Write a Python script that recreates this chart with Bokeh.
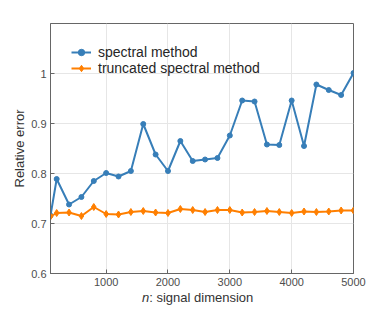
from bokeh.plotting import figure
from bokeh.models import FixedTicker, Range1d, Legend, LegendItem, Div
from bokeh.layouts import column
from bokeh.embed import file_html
from bokeh.resources import INLINE

n_values = [100, 200, 400, 600, 800, 1000, 1200, 1400, 1600, 1800, 2000, 2200, 2400,
            2600, 2800, 3000, 3200, 3400, 3600, 3800, 4000, 4200, 4400, 4600, 4800, 5000]
spectral = [0.716, 0.789, 0.738, 0.753, 0.785, 0.801, 0.794, 0.805, 0.899, 0.838, 0.805,
            0.865, 0.825, 0.828, 0.831, 0.876, 0.946, 0.944, 0.858, 0.857, 0.946, 0.855,
            0.978, 0.967, 0.957, 1.001]
truncated = [0.714, 0.721, 0.722, 0.715, 0.733, 0.719, 0.718, 0.723, 0.725, 0.722, 0.721,
             0.729, 0.727, 0.723, 0.727, 0.727, 0.722, 0.723, 0.725, 0.723, 0.721, 0.724,
             0.723, 0.724, 0.726, 0.726]
x_ticks = [1000, 2000, 3000, 4000, 5000]
y_ticks = [0.6, 0.7, 0.8, 0.9, 1.0]
series_names = ["spectral method", "truncated spectral method"]

BLUE = "#377eb8"
ORANGE = "#ff7f00"
FONT = "Liberation Sans"
AXC = "#666666"

p = figure(width=380, height=290, output_backend="svg", toolbar_location=None,
           x_range=Range1d(100, 5000), y_range=Range1d(0.6, 1.1),
           min_border_left=50, min_border_right=27, min_border_top=23, min_border_bottom=17)

p.background_fill_color = "white"
p.border_fill_color = "white"
p.outline_line_color = AXC
p.outline_line_width = 1

p.xaxis.ticker = FixedTicker(ticks=x_ticks)
p.yaxis.ticker = FixedTicker(ticks=y_ticks)
p.yaxis.major_label_overrides = {1.0: "1", 1: "1"}
for ax in list(p.xaxis) + list(p.yaxis):
    ax.major_tick_in = 4
    ax.major_tick_out = 0
    ax.minor_tick_in = 0
    ax.minor_tick_out = 0
    ax.axis_line_color = AXC
    ax.major_tick_line_color = AXC
    ax.major_label_text_font = FONT
    ax.major_label_text_font_size = "11px"
    ax.major_label_text_color = "#4d4d4d"
    ax.axis_label_text_font = FONT
    ax.axis_label_text_font_style = "normal"
    ax.axis_label_text_font_size = "13px"
    ax.axis_label_text_color = "#333333"
    ax.major_label_standoff = 4
p.yaxis.axis_label = "Relative error"
p.yaxis.axis_label_standoff = 1

p.xgrid.ticker = FixedTicker(ticks=x_ticks)
p.ygrid.ticker = FixedTicker(ticks=y_ticks)
p.grid.grid_line_color = "#e6e6e6"
p.grid.grid_line_width = 1

l1 = p.line(n_values, spectral, line_color=BLUE, line_width=2)
c1 = p.scatter(n_values, spectral, marker="circle", size=5, fill_color=BLUE, line_color=BLUE)
l2 = p.line(n_values, truncated, line_color=ORANGE, line_width=2)
c2 = p.scatter(n_values, truncated, marker="diamond", size=7, fill_color=ORANGE, line_color=ORANGE)

legend = Legend(items=[LegendItem(label=series_names[0], renderers=[l1, c1]),
                       LegendItem(label=series_names[1], renderers=[l2, c2])],
                location="top_left")
legend.border_line_color = None
legend.background_fill_alpha = 0.0
legend.label_text_font = FONT
legend.label_text_font_size = "14px"
legend.label_text_color = "#262626"
legend.glyph_width = 20
legend.label_standoff = 7
legend.spacing = 0
legend.label_height = 16
legend.glyph_height = 16
legend.padding = 3
legend.margin = 21
p.add_layout(legend)

xlabel = Div(text="<i>n</i>: signal dimension", width=380, height=19, margin=0,
             styles={"padding-left": "142px", "font-family": FONT, "font-size": "13px",
                     "color": "#333333", "line-height": "15px", "white-space": "nowrap"})

layout = column(p, xlabel, spacing=0)
open("out.html", "w").write(file_html(layout, INLINE))
